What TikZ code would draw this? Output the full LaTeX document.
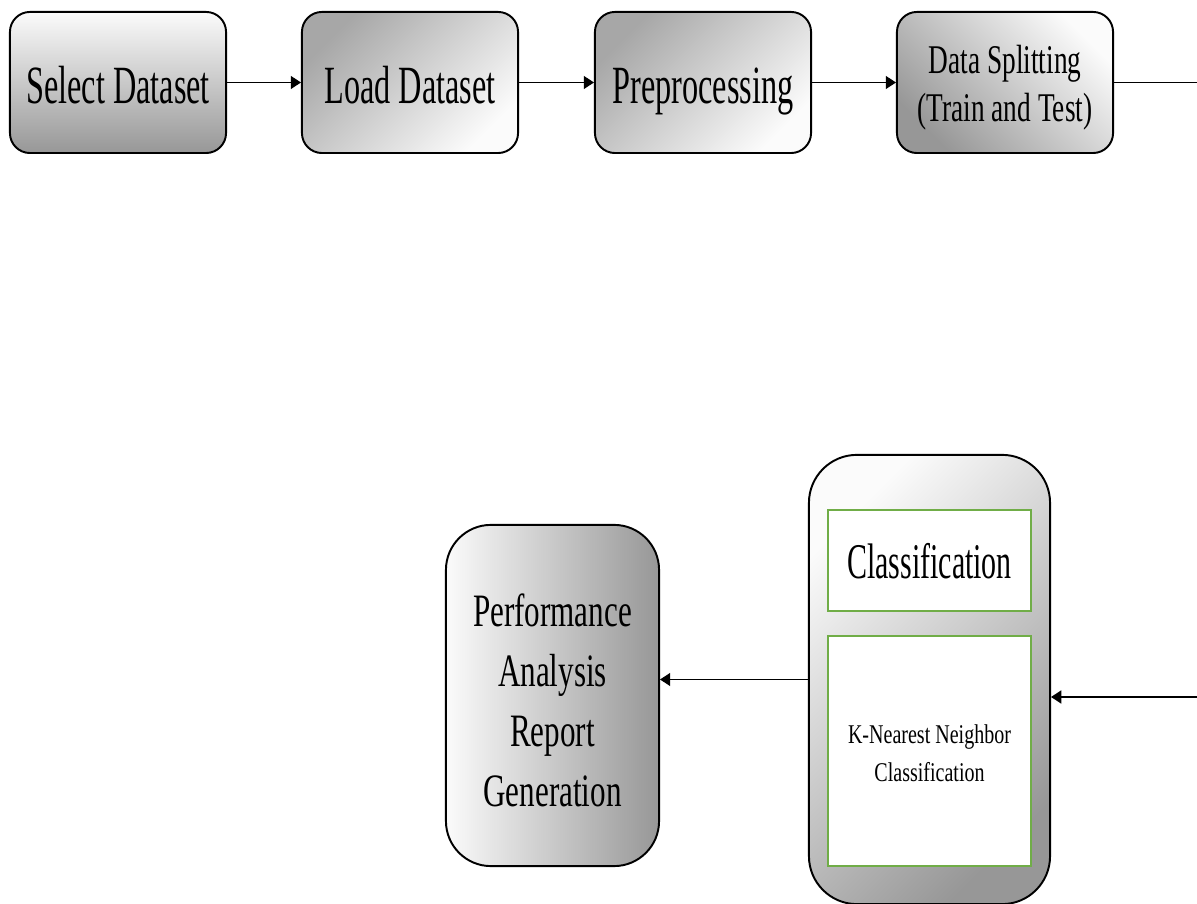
\documentclass[tikz,border=0pt]{standalone}
\usepackage{fontspec}
\setmainfont{Liberation Serif}[FakeStretch=0.6]
\newfontfamily\midnarrow{Liberation Serif}[FakeStretch=0.67]
\newfontfamily\lightnarrow{Liberation Serif}[FakeStretch=0.74]
\usetikzlibrary{arrows.meta}

\definecolor{shadeDark}{HTML}{979797}
\definecolor{shadeLight}{HTML}{FBFBFB}
\definecolor{panelGreen}{HTML}{70AD47}

\tikzset{
  stagebox/.style={draw=black, line width=0.55pt, rounded corners=0.2cm,
    minimum width=2.16cm, minimum height=1.41cm, align=center, inner sep=0pt,
    font=\fontsize{15.3pt}{18pt}\selectfont, text height=13pt, text depth=1.2pt},
  flow/.style={draw=black, line width=0.4pt, -{Triangle[length=2.9pt,width=3.7pt]}},
  plainline/.style={draw=black, line width=0.4pt},
  panel/.style={draw=panelGreen, line width=0.7pt, fill=white,
    minimum width=2.03cm, align=center, inner sep=0pt},
}

\begin{document}
\begin{tikzpicture}[x=0.01cm, y=-0.01cm]
  \useasboundingbox (0,0) rectangle (1197,904);

  % top row of processing stages
  \node[stagebox, top color=shadeLight, bottom color=shadeDark]
    (select) at (118,82.5) {Select Dataset};
  \node[stagebox, top color=shadeDark!85, bottom color=shadeLight, shading angle=45]
    (load) at (410,82.5) {Load Dataset};
  \node[stagebox, top color=shadeDark!85, bottom color=shadeLight, shading angle=45]
    (prep) at (703,82.5) {Preprocessing};
  % multi-line texts: height/depth are measured from the last baseline
  \node[stagebox, top color=shadeLight, bottom color=shadeDark, shading angle=-45,
    font=\midnarrow\fontsize{11.6pt}{13.8pt}\selectfont,
    text height=24pt, text depth=1.7pt]
    (split) at (1005,82.5) {Data Splitting\\(Train and Test)};

  % classification stage with its two panels
  \node[draw=black, line width=0.55pt, rounded corners=0.48cm,
    minimum width=2.41cm, minimum height=4.49cm, inner sep=0pt,
    top color=shadeLight, bottom color=shadeDark, shading angle=45]
    (stage) at (929.5,679.5) {};
  \node[panel, minimum height=1.01cm, font=\fontsize{14.2pt}{17pt}\selectfont,
    text height=11pt, text depth=1pt]
    (cls) at (929.5,560.5) {Classification};
  \node[panel, minimum height=2.30cm, font=\lightnarrow\fontsize{7.7pt}{11pt}\selectfont,
    text height=18pt, text depth=0.5pt]
    (knn) at (929.5,751) {K-Nearest Neighbor\\Classification};

  % final report stage
  \node[draw=black, line width=0.55pt, rounded corners=0.45cm,
    minimum width=2.13cm, minimum height=3.41cm, inner sep=0pt, align=center,
    left color=shadeLight, right color=shadeDark,
    font=\midnarrow\fontsize{13.2pt}{17.1pt}\selectfont,
    text height=64pt, text depth=0.7pt]
    (perf) at (552.5,695.5) {Performance\\Analysis\\Report\\Generation};

  % connectors
  \coordinate (exitR) at (1197,82.5);
  \coordinate (entryR) at (1197,697);
  \draw[flow] (select) -- (load);
  \draw[flow] (load) -- (prep);
  \draw[flow] (prep) -- (split);
  \draw[plainline] (split) -- (exitR);
  \draw[flow] (entryR) -- (entryR -| stage.east);
  \draw[flow] (stage.west) -- (stage.west -| perf.east);
\end{tikzpicture}
\end{document}
